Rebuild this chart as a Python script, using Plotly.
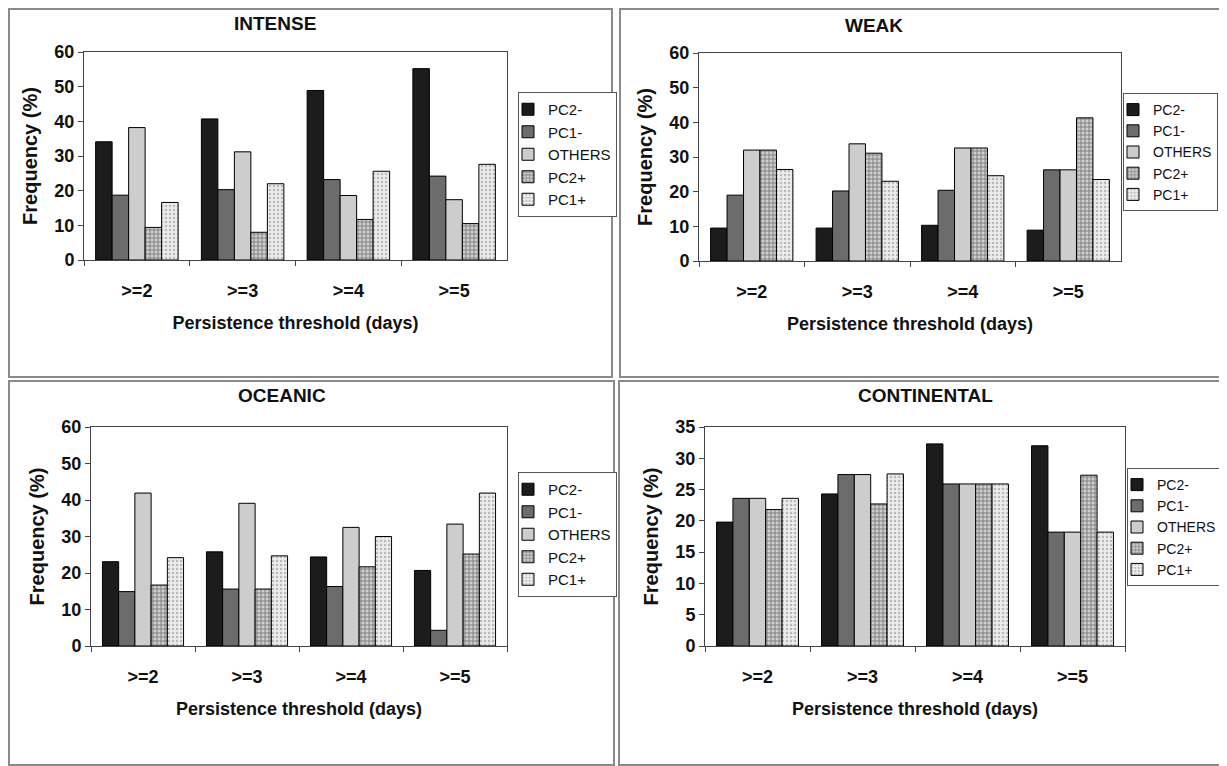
import plotly.graph_objects as go

categories = [">=2", ">=3", ">=4", ">=5"]
series_names = ["PC2-", "PC1-", "OTHERS", "PC2+", "PC1+"]

intense_pc2m = [34.1, 40.7, 48.9, 55.2]
intense_pc1m = [18.7, 20.3, 23.2, 24.2]
intense_others = [38.2, 31.2, 18.6, 17.4]
intense_pc2p = [9.4, 8.0, 11.7, 10.5]
intense_pc1p = [16.6, 22.0, 25.6, 27.6]

weak_pc2m = [9.5, 9.5, 10.3, 8.9]
weak_pc1m = [19.0, 20.2, 20.4, 26.3]
weak_others = [32.0, 33.8, 32.6, 26.3]
weak_pc2p = [32.0, 31.1, 32.6, 41.3]
weak_pc1p = [26.4, 23.0, 24.6, 23.5]

oceanic_pc2m = [23.1, 25.8, 24.4, 20.7]
oceanic_pc1m = [14.9, 15.6, 16.3, 4.3]
oceanic_others = [41.9, 39.1, 32.5, 33.4]
oceanic_pc2p = [16.7, 15.6, 21.7, 25.2]
oceanic_pc1p = [24.2, 24.7, 30.0, 41.9]

continental_pc2m = [19.8, 24.3, 32.3, 32.0]
continental_pc1m = [23.6, 27.4, 25.9, 18.2]
continental_others = [23.6, 27.4, 25.9, 18.2]
continental_pc2p = [21.8, 22.7, 25.9, 27.3]
continental_pc1p = [23.6, 27.5, 25.9, 18.2]

panel_titles = ["INTENSE", "WEAK", "OCEANIC", "CONTINENTAL"]
y_ranges = [60, 60, 60, 35]
y_dticks = [10, 10, 10, 5]
x_title = "Persistence threshold (days)"
y_title = "Frequency (%)"

# page body has an 8px margin: figure sized to fit the 1227x766 window
OFF = 8
W, H = 1227 - OFF, 766 - OFF


def px(v):
    return (v - OFF) / W


def py(v):
    return 1 - (v - OFF) / H


panels = [
    [intense_pc2m, intense_pc1m, intense_others, intense_pc2p, intense_pc1p],
    [weak_pc2m, weak_pc1m, weak_others, weak_pc2p, weak_pc1p],
    [oceanic_pc2m, oceanic_pc1m, oceanic_others, oceanic_pc2p, oceanic_pc1p],
    [continental_pc2m, continental_pc1m, continental_others, continental_pc2p, continental_pc1p],
]

# pixel geometry (window coords) of plot areas: (x0, x1, ytop, ybottom)
areas = [(84, 507, 52, 260), (699, 1121, 53, 261), (91, 507, 427, 646), (705, 1125, 427, 646)]
legend_pos = [(518, 92), (1123, 93), (518, 472), (1127, 468)]
legend_font = [15, 14, 15, 14]
title_pos = [(275, 23), (874, 25), (282, 395), (925, 395)]
frames = [(9, 9, 612, 377), (620, 9, 1226, 377), (9, 381, 614, 765), (619, 381, 1226, 765)]

styles = [
    dict(color="#1c1c1c"),
    dict(color="#6c6c6c"),
    dict(color="#cdcdcd"),
    dict(color="#cfcfcf", pattern=dict(shape="+", fgcolor="#222222", bgcolor="#cfcfcf", size=4, solidity=0.4)),
    dict(color="#ececec", pattern=dict(shape=".", fgcolor="#888888", bgcolor="#ececec", size=4, solidity=0.3)),
]

FONT = "Arial, Liberation Sans, sans-serif"

fig = go.Figure()
for p, vals in enumerate(panels):
    sfx = "" if p == 0 else str(p + 1)
    leg = "legend" if p == 0 else f"legend{p + 1}"
    for s, name in enumerate(series_names):
        m = dict(styles[s])
        m["line"] = dict(color="#000000", width=1)
        fig.add_trace(go.Bar(
            x=categories, y=vals[s], name=name, marker=m,
            xaxis="x" + sfx, yaxis="y" + sfx, legend=leg, showlegend=True,
        ))

layout = dict(
    width=W, height=H, margin=dict(l=0, r=0, t=0, b=0, autoexpand=False),
    paper_bgcolor="white", plot_bgcolor="white",
    barmode="group", bargap=0.22, bargroupgap=0,
    font=dict(family=FONT, color="#111111"),
    shapes=[], annotations=[],
)
for p in range(4):
    sfx = "" if p == 0 else str(p + 1)
    x0, x1, yt, yb = areas[p]
    layout["xaxis" + sfx] = dict(
        domain=[px(x0), px(x1)], anchor="y" + sfx,
        showline=True, linecolor="#444", linewidth=1, mirror=True,
        ticks="outside", tickson="boundaries", ticklen=5, tickcolor="#444",
        tickfont=dict(size=18, weight="bold", family=FONT), ticklabelstandoff=14,
        title=dict(text=x_title, font=dict(size=18, weight="bold", family=FONT), standoff=16),
        showgrid=False, automargin=False,
    )
    layout["yaxis" + sfx] = dict(
        domain=[py(yb), py(yt)], anchor="x" + sfx,
        range=[0, y_ranges[p]], dtick=y_dticks[p],
        showline=True, linecolor="#444", linewidth=1, mirror=True,
        ticks="outside", ticklen=5, tickcolor="#444",
        tickfont=dict(size=18, weight="bold", family=FONT),
        title=dict(text=y_title, font=dict(size=20, weight="bold", family=FONT), standoff=11),
        showgrid=False, zeroline=False, automargin=False,
    )
    lx, ly = legend_pos[p]
    leg = "legend" if p == 0 else f"legend{p + 1}"
    layout[leg] = dict(
        x=px(lx), y=py(ly), xanchor="left", yanchor="top",
        bordercolor="#555", borderwidth=1, bgcolor="white",
        font=dict(size=legend_font[p], family=FONT), tracegroupgap=0,
        itemwidth=30, indentation=-11, traceorder="normal",
    )
    tx, ty = title_pos[p]
    layout["annotations"].append(dict(
        text=panel_titles[p], x=px(tx), y=py(ty), xref="paper", yref="paper",
        showarrow=False, font=dict(size=19, weight="bold", family=FONT),
        xanchor="center", yanchor="middle",
    ))
    fx0, fy0, fx1, fy1 = frames[p]
    layout["shapes"].append(dict(
        type="rect", xref="paper", yref="paper",
        x0=px(fx0), x1=px(fx1), y0=py(fy1), y1=py(fy0),
        line=dict(color="#8a8a8a", width=2), layer="below",
    ))

fig.update_layout(**layout)
fig.write_html("out.html")
